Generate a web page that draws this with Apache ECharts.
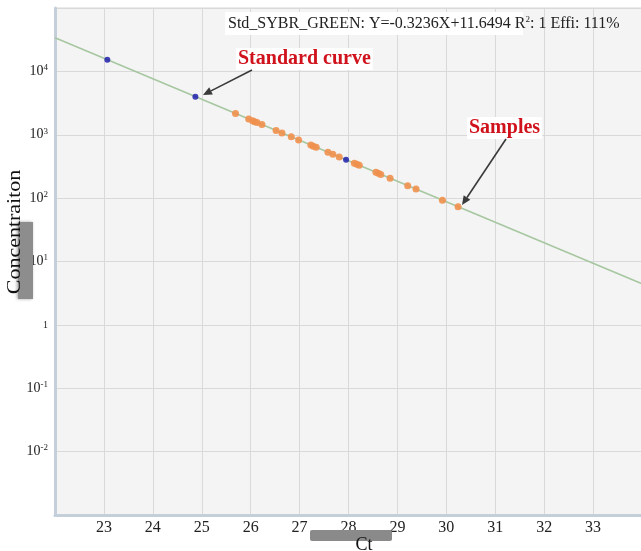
<!DOCTYPE html>
<html>
<head>
<meta charset="utf-8">
<script src="https://cdn.jsdelivr.net/npm/echarts@6/dist/echarts.min.js"></script>
<style>html,body{margin:0;padding:0;background:#fff;overflow:hidden;width:641px;height:551px}#c{width:645px;height:551px}</style>
</head>
<body>
<div id="c"></div>
<script>
// Data
var xTicks = [23, 24, 25, 26, 27, 28, 29, 30, 31, 32, 33];
var yTickExps = [-2, -1, 0, 1, 2, 3, 4];
var standardCt = [23.07, 24.87, 27.95];
var standardConc = [15300, 3980, 404];
var sampleCt = [25.69, 25.96, 26.04, 26.08, 26.13, 26.23, 26.52, 26.64, 26.83, 26.98, 27.23, 27.28, 27.34, 27.58, 27.68, 27.81, 28.12, 28.17, 28.22, 28.56, 28.61, 28.66, 28.85, 29.21, 29.38, 29.92, 30.24];
var sampleConc = [2170, 1770, 1670, 1610, 1560, 1450, 1170, 1070, 927, 830, 689, 660, 634, 530, 492, 447, 355, 342, 329, 255, 246, 237, 206, 157, 139, 92.7, 73.1];
var fitCt = [22, 34];
var fitConc = [33900, 4.44];
var equationText = 'Std_SYBR_GREEN: Y=-0.3236X+11.6494 R';
var equationTail = ': 1 Effi: 111%';

var serif = "'Liberation Serif', 'Times New Roman', serif";
function pairs(xs, ys) { return xs.map(function (x, i) { return [x, ys[i]]; }); }

function arrow(x1, y1, x2, y2) {
  var a = Math.atan2(y2 - y1, x2 - x1), L = 9, W = 4;
  var bx = x2 - L * Math.cos(a), by = y2 - L * Math.sin(a);
  var px = -Math.sin(a) * W, py = Math.cos(a) * W;
  return [
    { type: 'line', shape: { x1: x1, y1: y1, x2: bx, y2: by }, style: { stroke: '#3a3a3a', lineWidth: 1.6 }, z: 20 },
    { type: 'polygon', shape: { points: [[x2, y2], [bx + px, by + py], [bx - px, by - py]] }, style: { fill: '#3a3a3a' }, z: 20 }
  ];
}

var chart = echarts.init(document.getElementById('c'), null, { renderer: 'canvas' });
var graphics = [
  { type: 'rect', shape: { x: 18, y: 222, width: 15, height: 77 }, style: { fill: '#8d8d8d', shadowBlur: 3, shadowColor: 'rgba(0,0,0,0.35)', shadowOffsetX: -1 }, z: 1 },
  { type: 'text', x: 15, y: 232, rotation: Math.PI / 2, scaleX: 1.22, style: { text: 'Concentraiton', font: '18px ' + serif, fill: '#111', align: 'center', verticalAlign: 'middle' }, z: 5 },
  { type: 'rect', shape: { x: 310, y: 530, width: 82, height: 11, r: 2 }, style: { fill: '#8a8a8a' }, z: 1 },
  { type: 'text', x: 364, y: 536, style: { text: 'Ct', font: '18px ' + serif, fill: '#111', align: 'center', verticalAlign: 'top' }, z: 5 },
  { type: 'rect', shape: { x: 225, y: 12, width: 298, height: 23 }, style: { fill: '#ffffff' }, z: 10 },
  { type: 'text', x: 228, y: 24, style: {
      rich: { m: { fontFamily: serif, fontSize: 16, fill: '#222', lineHeight: 18 }, s: { fontFamily: serif, fontSize: 9, fill: '#222', verticalAlign: 'top', lineHeight: 9 } },
      text: '{m|' + equationText + '}{s|2}{m|' + equationTail + '}', verticalAlign: 'middle' }, z: 11 },
  { type: 'text', x: 236, y: 59, style: { text: 'Standard curve', font: 'bold 20px ' + serif, fill: '#d0121c', backgroundColor: '#ffffff', padding: [1, 2], verticalAlign: 'middle' }, z: 11 },
  { type: 'text', x: 467, y: 128, style: { text: 'Samples', font: 'bold 20px ' + serif, fill: '#d0121c', backgroundColor: '#ffffff', padding: [1, 2], verticalAlign: 'middle' }, z: 11 }
].concat(arrow(252, 70, 203, 95)).concat(arrow(506, 139, 462, 205));

chart.setOption({
  animation: false,
  backgroundColor: '#ffffff',
  grid: { left: 55, top: 8, right: 0, bottom: 36, show: true, backgroundColor: '#f4f4f4', borderColor: '#d6d6d6', borderWidth: 1 },
  xAxis: {
    type: 'value', min: 22, max: 34, interval: 1,
    axisLine: { show: true, onZero: false, lineStyle: { color: '#c4cfda', width: 3 } },
    axisTick: { show: false },
    splitLine: { show: true, lineStyle: { color: '#d9d9d9', width: 1 } },
    axisLabel: { fontFamily: serif, fontSize: 16, color: '#222', margin: 5,
      formatter: function (v) { return xTicks.indexOf(v) >= 0 ? String(v) : ''; } }
  },
  yAxis: {
    type: 'log', logBase: 10, min: 0.001, max: 100000, splitNumber: 8,
    axisLine: { show: true, onZero: false, lineStyle: { color: '#c4cfda', width: 3 } },
    axisTick: { show: false },
    splitLine: { show: true, lineStyle: { color: '#d9d9d9', width: 1 } },
    minorTick: { show: false },
    axisLabel: { margin: 7,
      formatter: function (v) {
        var e = Math.round(Math.log10(v));
        if (yTickExps.indexOf(e) < 0) return '';
        if (e === 0) return '{o|1}';
        return '{b|10}{s|' + e + '}';
      },
      rich: {
        b: { fontFamily: serif, fontSize: 14, color: '#222', lineHeight: 16 },
        s: { fontFamily: serif, fontSize: 9, color: '#222', verticalAlign: 'top', lineHeight: 10 },
        o: { fontFamily: serif, fontSize: 10, color: '#222' }
      }
    }
  },
  series: [
    { type: 'line', data: pairs(fitCt, fitConc), symbol: 'none', lineStyle: { color: '#a6c7a0', width: 1.6 }, z: 2, silent: true },
    { type: 'scatter', data: pairs(sampleCt, sampleConc), symbol: 'circle', symbolSize: 7, itemStyle: { color: '#f0904e', opacity: 0.9 }, z: 3 },
    { type: 'scatter', data: pairs(standardCt, standardConc), symbol: 'circle', symbolSize: 6, itemStyle: { color: '#1414a8' }, z: 4 }
  ],
  graphic: graphics
});
</script>
</body>
</html>
